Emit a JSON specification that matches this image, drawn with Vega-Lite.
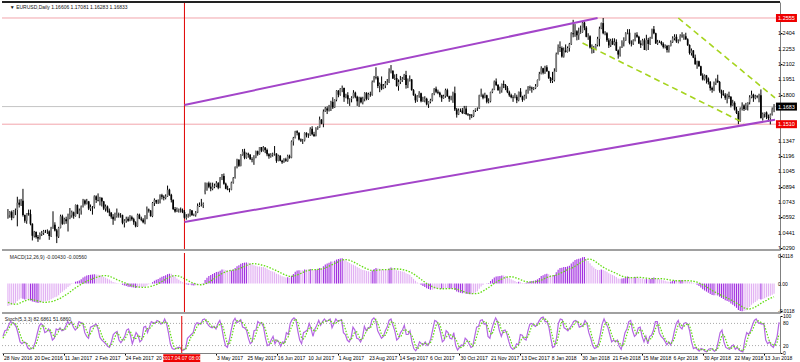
{
"$schema":"https://vega.github.io/schema/vega-lite/v6.json",
"padding":{"left":0,"right":0,"top":1,"bottom":0},
"background":"white",
"spacing":3,
"bounds":"flush",
"config":{"view":{"stroke":null},"axis":{"labels":false,"tickColor":"#000","tickSize":2,"domainColor":"#808080","grid":false},"text":{"font":"Liberation Sans"}},
"datasets":{
"lv":[{"p":1.2555,"n":"high"},{"p":1.151,"n":"low"},{"p":1.16833,"n":"bid"}],
"yl":[{"p":1.029},{"p":1.0441},{"p":1.0592},{"p":1.0743},{"p":1.0894},{"p":1.1045},{"p":1.1196},{"p":1.1347},{"p":1.18},{"p":1.1951},{"p":1.2102},{"p":1.2253},{"p":1.2404}],
"ml":[{"v":0.0118,"s":"0.0118"},{"v":0,"s":"0.00"},{"v":-0.0118,"s":"-0.0118"}],
"sl":[{"v":100},{"v":80},{"v":20},{"v":0}],
"dl":[{"i":0,"s":"28 Nov 2016"},{"i":16,"s":"20 Dec 2016"},{"i":32,"s":"11 Jan 2017"},{"i":48,"s":"2 Feb 2017"},{"i":64,"s":"24 Feb 2017"},{"i":80,"s":"20 Mar 2017"},{"i":112,"s":"3 May 2017"},{"i":128,"s":"25 May 2017"},{"i":144,"s":"16 Jun 2017"},{"i":160,"s":"10 Jul 2017"},{"i":176,"s":"1 Aug 2017"},{"i":192,"s":"23 Aug 2017"},{"i":208,"s":"14 Sep 2017"},{"i":224,"s":"6 Oct 2017"},{"i":240,"s":"30 Oct 2017"},{"i":256,"s":"21 Nov 2017"},{"i":272,"s":"13 Dec 2017"},{"i":288,"s":"8 Jan 2018"},{"i":304,"s":"30 Jan 2018"},{"i":320,"s":"21 Feb 2018"},{"i":336,"s":"15 Mar 2018"},{"i":352,"s":"6 Apr 2018"},{"i":368,"s":"30 Apr 2018"},{"i":384,"s":"22 May 2018"},{"i":400,"s":"13 Jun 2018"}],
"tl":[{"g":"pu","i":94,"p":1.1699},{"g":"pu","i":314,"p":1.2555},{"g":"pl","i":94,"p":1.0548},{"g":"pl","i":408.5,"p":1.1554},{"g":"gu","i":357,"p":1.2555},{"g":"gu","i":408.5,"p":1.1768},{"g":"gl","i":306,"p":1.2309},{"g":"gl","i":392,"p":1.1522}],
"ch":[{"i":94,"lab":"2017.04.07 08:00"}],
"b":[
{"i":0,"o":1.059,"h":1.0675,"l":1.058,"c":1.0615,"m":-0.0095,"s":-0.008,"k":45,"d":40,"t":0},
{"i":1,"o":1.0615,"h":1.0655,"l":1.059,"c":1.0645,"m":-0.0092,"s":-0.0083,"k":60,"d":48,"t":0},
{"i":2,"o":1.0645,"h":1.066,"l":1.0565,"c":1.059,"m":-0.009,"s":-0.0086,"k":62,"d":56,"t":0},
{"i":3,"o":1.059,"h":1.0665,"l":1.0585,"c":1.0663,"m":-0.0086,"s":-0.0087,"k":75,"d":66,"t":0},
{"i":4,"o":1.0663,"h":1.068,"l":1.0615,"c":1.0665,"m":-0.0082,"s":-0.0088,"k":85,"d":74,"t":0},
{"i":5,"o":1.0665,"h":1.0796,"l":1.0505,"c":1.0738,"m":-0.0074,"s":-0.0087,"k":82,"d":81,"t":0},
{"i":6,"o":1.0738,"h":1.077,"l":1.069,"c":1.0718,"m":-0.0068,"s":-0.0084,"k":78,"d":82,"t":0},
{"i":7,"o":1.0718,"h":1.0775,"l":1.0705,"c":1.0756,"m":-0.0062,"s":-0.008,"k":70,"d":77,"t":0},
{"i":8,"o":1.0756,"h":1.0874,"l":1.0601,"c":1.0617,"m":-0.0064,"s":-0.0077,"k":52,"d":67,"t":1},
{"i":9,"o":1.0617,"h":1.062,"l":1.054,"c":1.056,"m":-0.0068,"s":-0.0074,"k":30,"d":51,"t":1},
{"i":10,"o":1.056,"h":1.0635,"l":1.053,"c":1.0635,"m":-0.0066,"s":-0.0071,"k":25,"d":36,"t":0},
{"i":11,"o":1.0635,"h":1.067,"l":1.061,"c":1.0625,"m":-0.0066,"s":-0.0068,"k":30,"d":28,"t":0},
{"i":12,"o":1.0625,"h":1.067,"l":1.0515,"c":1.053,"m":-0.0072,"s":-0.0067,"k":28,"d":28,"t":1},
{"i":13,"o":1.053,"h":1.0535,"l":1.0366,"c":1.0412,"m":-0.0076,"s":-0.0068,"k":14,"d":24,"t":1},
{"i":14,"o":1.0412,"h":1.046,"l":1.0395,"c":1.045,"m":-0.0078,"s":-0.007,"k":10,"d":17,"t":1},
{"i":15,"o":1.045,"h":1.0455,"l":1.0385,"c":1.04,"m":-0.008,"s":-0.0072,"k":12,"d":12,"t":1},
{"i":16,"o":1.04,"h":1.042,"l":1.0352,"c":1.0385,"m":-0.0082,"s":-0.0074,"k":15,"d":12,"t":1},
{"i":17,"o":1.0385,"h":1.0445,"l":1.0375,"c":1.043,"m":-0.0081,"s":-0.0076,"k":30,"d":19,"t":0},
{"i":18,"o":1.043,"h":1.046,"l":1.041,"c":1.044,"m":-0.0079,"s":-0.0078,"k":52,"d":32,"t":0},
{"i":19,"o":1.044,"h":1.047,"l":1.042,"c":1.0455,"m":-0.0077,"s":-0.008,"k":72,"d":51,"t":0},
{"i":20,"o":1.0455,"h":1.047,"l":1.044,"c":1.0455,"m":-0.0075,"s":-0.008,"k":80,"d":68,"t":0},
{"i":21,"o":1.0455,"h":1.0475,"l":1.043,"c":1.0455,"m":-0.0073,"s":-0.0079,"k":75,"d":76,"t":0},
{"i":22,"o":1.0455,"h":1.0465,"l":1.0372,"c":1.041,"m":-0.0072,"s":-0.0078,"k":55,"d":70,"t":0},
{"i":23,"o":1.041,"h":1.05,"l":1.04,"c":1.0495,"m":-0.0067,"s":-0.0077,"k":58,"d":63,"t":0},
{"i":24,"o":1.0495,"h":1.0653,"l":1.048,"c":1.052,"m":-0.0062,"s":-0.0075,"k":65,"d":59,"t":0},
{"i":25,"o":1.052,"h":1.0545,"l":1.0455,"c":1.0465,"m":-0.0058,"s":-0.0072,"k":55,"d":62,"t":0},
{"i":26,"o":1.0465,"h":1.048,"l":1.034,"c":1.0405,"m":-0.0056,"s":-0.0069,"k":35,"d":52,"t":0},
{"i":27,"o":1.0405,"h":1.05,"l":1.039,"c":1.049,"m":-0.005,"s":-0.0066,"k":40,"d":43,"t":0},
{"i":28,"o":1.049,"h":1.062,"l":1.0485,"c":1.0604,"m":-0.004,"s":-0.0062,"k":65,"d":47,"t":0},
{"i":29,"o":1.0604,"h":1.062,"l":1.052,"c":1.053,"m":-0.0035,"s":-0.0057,"k":62,"d":56,"t":0},
{"i":30,"o":1.053,"h":1.059,"l":1.0525,"c":1.0575,"m":-0.0028,"s":-0.0052,"k":68,"d":65,"t":0},
{"i":31,"o":1.0575,"h":1.06,"l":1.053,"c":1.0555,"m":-0.0022,"s":-0.0047,"k":60,"d":63,"t":0},
{"i":32,"o":1.0555,"h":1.063,"l":1.0454,"c":1.0585,"m":-0.0015,"s":-0.0042,"k":62,"d":63,"t":0},
{"i":33,"o":1.0585,"h":1.0685,"l":1.0575,"c":1.0615,"m":-0.0008,"s":-0.0036,"k":72,"d":65,"t":0},
{"i":34,"o":1.0615,"h":1.066,"l":1.059,"c":1.0643,"m":-0.0002,"s":-0.003,"k":85,"d":73,"t":0},
{"i":35,"o":1.0643,"h":1.065,"l":1.058,"c":1.0605,"m":0.0001,"s":-0.0024,"k":78,"d":78,"t":0},
{"i":36,"o":1.0605,"h":1.072,"l":1.06,"c":1.0715,"m":0.0008,"s":-0.0018,"k":85,"d":83,"t":1},
{"i":37,"o":1.0715,"h":1.072,"l":1.0625,"c":1.063,"m":0.001,"s":-0.0013,"k":70,"d":78,"t":1},
{"i":38,"o":1.063,"h":1.068,"l":1.0585,"c":1.066,"m":0.0013,"s":-0.0008,"k":62,"d":72,"t":1},
{"i":39,"o":1.066,"h":1.071,"l":1.062,"c":1.07,"m":0.0018,"s":-0.0003,"k":68,"d":67,"t":1},
{"i":40,"o":1.07,"h":1.0775,"l":1.069,"c":1.076,"m":0.0026,"s":0.0002,"k":85,"d":72,"t":1},
{"i":41,"o":1.076,"h":1.077,"l":1.071,"c":1.0728,"m":0.003,"s":0.0006,"k":82,"d":78,"t":1},
{"i":42,"o":1.0728,"h":1.0775,"l":1.072,"c":1.075,"m":0.0034,"s":0.001,"k":80,"d":82,"t":1},
{"i":43,"o":1.075,"h":1.0755,"l":1.0665,"c":1.068,"m":0.0036,"s":0.0014,"k":55,"d":72,"t":1},
{"i":44,"o":1.068,"h":1.072,"l":1.0655,"c":1.0695,"m":0.0038,"s":0.0017,"k":45,"d":60,"t":1},
{"i":45,"o":1.0695,"h":1.0705,"l":1.062,"c":1.0695,"m":0.0039,"s":0.002,"k":40,"d":47,"t":1},
{"i":46,"o":1.0695,"h":1.081,"l":1.068,"c":1.08,"m":0.004,"s":0.0023,"k":70,"d":52,"t":1},
{"i":47,"o":1.08,"h":1.081,"l":1.0735,"c":1.0765,"m":0.0039,"s":0.0026,"k":72,"d":61,"t":0},
{"i":48,"o":1.0765,"h":1.0829,"l":1.075,"c":1.076,"m":0.0038,"s":0.0028,"k":75,"d":72,"t":0},
{"i":49,"o":1.076,"h":1.0795,"l":1.071,"c":1.0785,"m":0.0036,"s":0.0031,"k":78,"d":75,"t":0},
{"i":50,"o":1.0785,"h":1.079,"l":1.07,"c":1.075,"m":0.0033,"s":0.0033,"k":65,"d":73,"t":0},
{"i":51,"o":1.075,"h":1.0755,"l":1.0665,"c":1.068,"m":0.0028,"s":0.0034,"k":42,"d":62,"t":0},
{"i":52,"o":1.068,"h":1.072,"l":1.065,"c":1.07,"m":0.0025,"s":0.0034,"k":35,"d":47,"t":0},
{"i":53,"o":1.07,"h":1.071,"l":1.064,"c":1.066,"m":0.0021,"s":0.0033,"k":30,"d":36,"t":0},
{"i":54,"o":1.066,"h":1.068,"l":1.0605,"c":1.064,"m":0.0017,"s":0.0031,"k":25,"d":30,"t":0},
{"i":55,"o":1.064,"h":1.0645,"l":1.058,"c":1.06,"m":0.0012,"s":0.0028,"k":18,"d":24,"t":0},
{"i":56,"o":1.06,"h":1.0625,"l":1.052,"c":1.0575,"m":0.0007,"s":0.0025,"k":15,"d":19,"t":0},
{"i":57,"o":1.0575,"h":1.064,"l":1.056,"c":1.0605,"m":0.0005,"s":0.0021,"k":30,"d":21,"t":0},
{"i":58,"o":1.0605,"h":1.068,"l":1.059,"c":1.062,"m":0.0003,"s":0.0017,"k":50,"d":32,"t":0},
{"i":59,"o":1.062,"h":1.064,"l":1.059,"c":1.0615,"m":0.0001,"s":0.0014,"k":55,"d":45,"t":0},
{"i":60,"o":1.0615,"h":1.0635,"l":1.059,"c":1.0615,"m":-0.0001,"s":0.001,"k":58,"d":54,"t":0},
{"i":61,"o":1.0615,"h":1.062,"l":1.0525,"c":1.054,"m":-0.0005,"s":0.0007,"k":35,"d":49,"t":1},
{"i":62,"o":1.054,"h":1.0575,"l":1.0494,"c":1.056,"m":-0.0008,"s":0.0004,"k":28,"d":40,"t":1},
{"i":63,"o":1.056,"h":1.06,"l":1.054,"c":1.058,"m":-0.001,"s":0.0001,"k":35,"d":33,"t":1},
{"i":64,"o":1.058,"h":1.06,"l":1.055,"c":1.056,"m":-0.0013,"s":-0.0003,"k":45,"d":36,"t":1},
{"i":65,"o":1.056,"h":1.0615,"l":1.0555,"c":1.0595,"m":-0.0014,"s":-0.0006,"k":62,"d":47,"t":1},
{"i":66,"o":1.0595,"h":1.061,"l":1.056,"c":1.0575,"m":-0.0016,"s":-0.0009,"k":65,"d":57,"t":1},
{"i":67,"o":1.0575,"h":1.059,"l":1.052,"c":1.0545,"m":-0.0017,"s":-0.0011,"k":48,"d":58,"t":1},
{"i":68,"o":1.0545,"h":1.0555,"l":1.0495,"c":1.0505,"m":-0.0019,"s":-0.0013,"k":25,"d":46,"t":1},
{"i":69,"o":1.0505,"h":1.063,"l":1.05,"c":1.062,"m":-0.0017,"s":-0.0014,"k":40,"d":38,"t":0},
{"i":70,"o":1.062,"h":1.063,"l":1.0575,"c":1.058,"m":-0.0016,"s":-0.0015,"k":55,"d":40,"t":0},
{"i":71,"o":1.058,"h":1.06,"l":1.0555,"c":1.057,"m":-0.0015,"s":-0.0016,"k":48,"d":48,"t":0},
{"i":72,"o":1.057,"h":1.0585,"l":1.0535,"c":1.0545,"m":-0.0015,"s":-0.0016,"k":30,"d":44,"t":0},
{"i":73,"o":1.0545,"h":1.0615,"l":1.0525,"c":1.058,"m":-0.0013,"s":-0.0016,"k":35,"d":38,"t":0},
{"i":74,"o":1.058,"h":1.07,"l":1.0575,"c":1.067,"m":-0.0008,"s":-0.0015,"k":70,"d":45,"t":0},
{"i":75,"o":1.067,"h":1.068,"l":1.064,"c":1.066,"m":-0.0003,"s":-0.0014,"k":72,"d":60,"t":0},
{"i":76,"o":1.066,"h":1.0665,"l":1.06,"c":1.0605,"m":-0.0001,"s":-0.0012,"k":55,"d":66,"t":0},
{"i":77,"o":1.0605,"h":1.0745,"l":1.0595,"c":1.0735,"m":0.0006,"s":-0.001,"k":70,"d":66,"t":1},
{"i":78,"o":1.0735,"h":1.078,"l":1.0705,"c":1.0765,"m":0.0012,"s":-0.0007,"k":85,"d":70,"t":1},
{"i":79,"o":1.0765,"h":1.0765,"l":1.0725,"c":1.074,"m":0.0016,"s":-0.0004,"k":82,"d":79,"t":1},
{"i":80,"o":1.074,"h":1.077,"l":1.0725,"c":1.074,"m":0.0019,"s":-0.0001,"k":80,"d":82,"t":1},
{"i":81,"o":1.074,"h":1.082,"l":1.073,"c":1.081,"m":0.0025,"s":0.0004,"k":88,"d":83,"t":1},
{"i":82,"o":1.081,"h":1.0825,"l":1.077,"c":1.0795,"m":0.0029,"s":0.0009,"k":85,"d":84,"t":1},
{"i":83,"o":1.0795,"h":1.081,"l":1.076,"c":1.0785,"m":0.0032,"s":0.0014,"k":78,"d":84,"t":1},
{"i":84,"o":1.0785,"h":1.082,"l":1.077,"c":1.08,"m":0.0035,"s":0.0018,"k":80,"d":81,"t":1},
{"i":85,"o":1.08,"h":1.0906,"l":1.0795,"c":1.0865,"m":0.004,"s":0.0023,"k":92,"d":83,"t":1},
{"i":86,"o":1.0865,"h":1.0875,"l":1.0805,"c":1.0815,"m":0.0042,"s":0.0027,"k":80,"d":84,"t":1},
{"i":87,"o":1.0815,"h":1.0825,"l":1.074,"c":1.0765,"m":0.0042,"s":0.0031,"k":55,"d":76,"t":0},
{"i":88,"o":1.0765,"h":1.077,"l":1.0665,"c":1.0675,"m":0.0036,"s":0.0033,"k":25,"d":53,"t":0},
{"i":89,"o":1.0675,"h":1.0695,"l":1.064,"c":1.065,"m":0.003,"s":0.0034,"k":12,"d":31,"t":0},
{"i":90,"o":1.065,"h":1.069,"l":1.0645,"c":1.0665,"m":0.0022,"s":0.0034,"k":10,"d":16,"t":0},
{"i":91,"o":1.0665,"h":1.068,"l":1.064,"c":1.067,"m":0.0016,"s":0.0032,"k":12,"d":11,"t":0},
{"i":92,"o":1.067,"h":1.069,"l":1.064,"c":1.0665,"m":0.0011,"s":0.0029,"k":15,"d":12,"t":0},
{"i":93,"o":1.0665,"h":1.068,"l":1.0635,"c":1.0645,"m":0.0006,"s":0.0025,"k":15,"d":14,"t":0},
{"i":94,"o":1.0645,"h":1.0665,"l":1.058,"c":1.059,"m":0.0001,"s":0.0021,"k":8,"d":13,"t":0},
{"i":95,"o":1.059,"h":1.0625,"l":1.057,"c":1.06,"m":-0.0003,"s":0.0017,"k":8,"d":10,"t":1},
{"i":96,"o":1.06,"h":1.063,"l":1.059,"c":1.0605,"m":-0.0005,"s":0.0012,"k":12,"d":9,"t":1},
{"i":97,"o":1.0605,"h":1.0675,"l":1.06,"c":1.066,"m":-0.0005,"s":0.0008,"k":40,"d":20,"t":0},
{"i":98,"o":1.066,"h":1.0665,"l":1.061,"c":1.0615,"m":-0.0007,"s":0.0004,"k":45,"d":32,"t":1},
{"i":99,"o":1.0615,"h":1.063,"l":1.0605,"c":1.0615,"m":-0.0008,"s":0.0001,"k":50,"d":45,"t":1},
{"i":100,"o":1.0615,"h":1.0655,"l":1.06,"c":1.064,"m":-0.0007,"s":-0.0002,"k":55,"d":49,"t":0},
{"i":101,"o":1.064,"h":1.073,"l":1.0635,"c":1.0705,"m":-0.0004,"s":-0.0004,"k":75,"d":60,"t":0},
{"i":102,"o":1.0705,"h":1.074,"l":1.0695,"c":1.0715,"m":-0.0001,"s":-0.0005,"k":82,"d":71,"t":0},
{"i":103,"o":1.0715,"h":1.0775,"l":1.07,"c":1.0715,"m":0.0001,"s":-0.0005,"k":80,"d":79,"t":0},
{"i":104,"o":1.0715,"h":1.074,"l":1.0685,"c":1.0725,"m":0.0003,"s":-0.0004,"k":78,"d":80,"t":1},
{"i":105,"o":1.084,"h":1.0937,"l":1.082,"c":1.0865,"m":0.0015,"s":-0.0002,"k":90,"d":83,"t":1},
{"i":106,"o":1.0865,"h":1.0935,"l":1.0855,"c":1.093,"m":0.0025,"s":0.0002,"k":92,"d":87,"t":1},
{"i":107,"o":1.093,"h":1.0945,"l":1.088,"c":1.0895,"m":0.0032,"s":0.0006,"k":85,"d":89,"t":1},
{"i":108,"o":1.0895,"h":1.0935,"l":1.085,"c":1.0875,"m":0.0037,"s":0.0011,"k":75,"d":84,"t":1},
{"i":109,"o":1.0875,"h":1.0935,"l":1.086,"c":1.0895,"m":0.0041,"s":0.0016,"k":70,"d":77,"t":1},
{"i":110,"o":1.0895,"h":1.0925,"l":1.088,"c":1.0905,"m":0.0045,"s":0.0022,"k":68,"d":71,"t":1},
{"i":111,"o":1.0905,"h":1.095,"l":1.089,"c":1.093,"m":0.0049,"s":0.0028,"k":72,"d":70,"t":1},
{"i":112,"o":1.093,"h":1.094,"l":1.087,"c":1.0885,"m":0.005,"s":0.0033,"k":65,"d":68,"t":1},
{"i":113,"o":1.0885,"h":1.099,"l":1.088,"c":1.0985,"m":0.0055,"s":0.0038,"k":80,"d":72,"t":1},
{"i":114,"o":1.0985,"h":1.102,"l":1.096,"c":1.0995,"m":0.006,"s":0.0043,"k":88,"d":78,"t":1},
{"i":115,"o":1.1,"h":1.1025,"l":1.0915,"c":1.0925,"m":0.006,"s":0.0047,"k":70,"d":79,"t":0},
{"i":116,"o":1.0925,"h":1.0935,"l":1.087,"c":1.0875,"m":0.0058,"s":0.005,"k":40,"d":66,"t":0},
{"i":117,"o":1.0875,"h":1.0905,"l":1.086,"c":1.0865,"m":0.0056,"s":0.0053,"k":20,"d":43,"t":0},
{"i":118,"o":1.0865,"h":1.088,"l":1.084,"c":1.0865,"m":0.0054,"s":0.0055,"k":15,"d":25,"t":0},
{"i":119,"o":1.0865,"h":1.0945,"l":1.086,"c":1.0935,"m":0.0056,"s":0.0056,"k":35,"d":23,"t":1},
{"i":120,"o":1.0935,"h":1.099,"l":1.0925,"c":1.098,"m":0.006,"s":0.0057,"k":62,"d":37,"t":1},
{"i":121,"o":1.098,"h":1.1095,"l":1.0975,"c":1.109,"m":0.0066,"s":0.0058,"k":85,"d":61,"t":1},
{"i":122,"o":1.109,"h":1.117,"l":1.1075,"c":1.116,"m":0.0074,"s":0.006,"k":94,"d":80,"t":1},
{"i":123,"o":1.116,"h":1.1165,"l":1.109,"c":1.11,"m":0.0078,"s":0.0063,"k":82,"d":87,"t":1},
{"i":124,"o":1.11,"h":1.1215,"l":1.1095,"c":1.121,"m":0.0084,"s":0.0066,"k":85,"d":87,"t":1},
{"i":125,"o":1.121,"h":1.1265,"l":1.12,"c":1.124,"m":0.0088,"s":0.007,"k":90,"d":86,"t":1},
{"i":126,"o":1.124,"h":1.1268,"l":1.1165,"c":1.118,"m":0.0089,"s":0.0073,"k":70,"d":82,"t":1},
{"i":127,"o":1.118,"h":1.123,"l":1.117,"c":1.122,"m":0.009,"s":0.0077,"k":68,"d":76,"t":1},
{"i":128,"o":1.122,"h":1.123,"l":1.118,"c":1.121,"m":0.0089,"s":0.008,"k":62,"d":67,"t":0},
{"i":129,"o":1.121,"h":1.1215,"l":1.116,"c":1.1165,"m":0.0086,"s":0.0083,"k":40,"d":57,"t":0},
{"i":130,"o":1.1165,"h":1.1185,"l":1.1135,"c":1.116,"m":0.0082,"s":0.0085,"k":25,"d":42,"t":0},
{"i":131,"o":1.116,"h":1.1205,"l":1.111,"c":1.118,"m":0.0078,"s":0.0085,"k":30,"d":32,"t":0},
{"i":132,"o":1.118,"h":1.125,"l":1.1175,"c":1.1245,"m":0.0076,"s":0.0084,"k":60,"d":38,"t":0},
{"i":133,"o":1.1245,"h":1.125,"l":1.12,"c":1.1215,"m":0.0073,"s":0.0083,"k":62,"d":51,"t":0},
{"i":134,"o":1.1215,"h":1.1285,"l":1.121,"c":1.1285,"m":0.0073,"s":0.0081,"k":85,"d":69,"t":0},
{"i":135,"o":1.1285,"h":1.1285,"l":1.1235,"c":1.125,"m":0.0071,"s":0.0079,"k":80,"d":76,"t":0},
{"i":136,"o":1.125,"h":1.1295,"l":1.124,"c":1.128,"m":0.007,"s":0.0077,"k":82,"d":82,"t":0},
{"i":137,"o":1.128,"h":1.1285,"l":1.1225,"c":1.1255,"m":0.0067,"s":0.0075,"k":70,"d":77,"t":0},
{"i":138,"o":1.1255,"h":1.127,"l":1.1195,"c":1.1215,"m":0.0063,"s":0.0072,"k":40,"d":64,"t":0},
{"i":139,"o":1.1215,"h":1.1225,"l":1.117,"c":1.1195,"m":0.0058,"s":0.0069,"k":20,"d":43,"t":0},
{"i":140,"o":1.1195,"h":1.1225,"l":1.118,"c":1.121,"m":0.0054,"s":0.0066,"k":22,"d":27,"t":0},
{"i":141,"o":1.121,"h":1.123,"l":1.119,"c":1.1215,"m":0.0051,"s":0.0062,"k":35,"d":26,"t":0},
{"i":142,"o":1.1215,"h":1.1295,"l":1.12,"c":1.122,"m":0.0048,"s":0.0059,"k":45,"d":34,"t":0},
{"i":143,"o":1.122,"h":1.1225,"l":1.113,"c":1.115,"m":0.0042,"s":0.0055,"k":25,"d":35,"t":0},
{"i":144,"o":1.115,"h":1.121,"l":1.1145,"c":1.12,"m":0.004,"s":0.0051,"k":35,"d":35,"t":0},
{"i":145,"o":1.12,"h":1.1205,"l":1.1145,"c":1.115,"m":0.0035,"s":0.0047,"k":30,"d":30,"t":0},
{"i":146,"o":1.115,"h":1.116,"l":1.112,"c":1.1135,"m":0.0031,"s":0.0043,"k":18,"d":28,"t":0},
{"i":147,"o":1.1135,"h":1.1175,"l":1.113,"c":1.1165,"m":0.0029,"s":0.0039,"k":30,"d":26,"t":0},
{"i":148,"o":1.1165,"h":1.118,"l":1.114,"c":1.115,"m":0.0026,"s":0.0036,"k":28,"d":25,"t":0},
{"i":149,"o":1.115,"h":1.121,"l":1.114,"c":1.1195,"m":0.0027,"s":0.0033,"k":55,"d":38,"t":1},
{"i":150,"o":1.1195,"h":1.121,"l":1.117,"c":1.118,"m":0.0025,"s":0.0031,"k":50,"d":44,"t":0},
{"i":151,"o":1.118,"h":1.135,"l":1.1175,"c":1.134,"m":0.0033,"s":0.0031,"k":80,"d":62,"t":1},
{"i":152,"o":1.134,"h":1.1385,"l":1.13,"c":1.1375,"m":0.0041,"s":0.0032,"k":90,"d":73,"t":1},
{"i":153,"o":1.1375,"h":1.1445,"l":1.137,"c":1.144,"m":0.005,"s":0.0034,"k":95,"d":88,"t":1},
{"i":154,"o":1.144,"h":1.145,"l":1.14,"c":1.1425,"m":0.0056,"s":0.0037,"k":90,"d":92,"t":1},
{"i":155,"o":1.1425,"h":1.143,"l":1.135,"c":1.136,"m":0.0057,"s":0.004,"k":60,"d":82,"t":1},
{"i":156,"o":1.136,"h":1.137,"l":1.1335,"c":1.135,"m":0.0057,"s":0.0043,"k":35,"d":62,"t":0},
{"i":157,"o":1.135,"h":1.1365,"l":1.1315,"c":1.135,"m":0.0057,"s":0.0047,"k":25,"d":40,"t":0},
{"i":158,"o":1.135,"h":1.143,"l":1.134,"c":1.1425,"m":0.006,"s":0.0051,"k":55,"d":38,"t":1},
{"i":159,"o":1.1425,"h":1.143,"l":1.138,"c":1.14,"m":0.006,"s":0.0054,"k":58,"d":46,"t":0},
{"i":160,"o":1.14,"h":1.142,"l":1.1375,"c":1.14,"m":0.006,"s":0.0056,"k":62,"d":58,"t":0},
{"i":161,"o":1.14,"h":1.148,"l":1.1395,"c":1.1465,"m":0.0062,"s":0.0058,"k":80,"d":67,"t":1},
{"i":162,"o":1.1465,"h":1.149,"l":1.14,"c":1.141,"m":0.006,"s":0.0059,"k":65,"d":69,"t":0},
{"i":163,"o":1.141,"h":1.1435,"l":1.1385,"c":1.1395,"m":0.0058,"s":0.0059,"k":45,"d":63,"t":0},
{"i":164,"o":1.1395,"h":1.148,"l":1.139,"c":1.147,"m":0.006,"s":0.0059,"k":65,"d":58,"t":1},
{"i":165,"o":1.147,"h":1.149,"l":1.1455,"c":1.1478,"m":0.0061,"s":0.006,"k":75,"d":62,"t":1},
{"i":166,"o":1.1478,"h":1.1585,"l":1.1475,"c":1.1555,"m":0.0066,"s":0.0061,"k":88,"d":76,"t":1},
{"i":167,"o":1.1555,"h":1.156,"l":1.151,"c":1.1515,"m":0.0066,"s":0.0062,"k":75,"d":79,"t":0},
{"i":168,"o":1.1515,"h":1.1655,"l":1.148,"c":1.1635,"m":0.0074,"s":0.0064,"k":85,"d":83,"t":1},
{"i":169,"o":1.1635,"h":1.168,"l":1.163,"c":1.1665,"m":0.0081,"s":0.0067,"k":92,"d":84,"t":1},
{"i":170,"o":1.1665,"h":1.1685,"l":1.161,"c":1.1645,"m":0.0085,"s":0.007,"k":85,"d":87,"t":1},
{"i":171,"o":1.1645,"h":1.17,"l":1.1635,"c":1.1685,"m":0.0089,"s":0.0074,"k":88,"d":88,"t":1},
{"i":172,"o":1.1685,"h":1.174,"l":1.164,"c":1.173,"m":0.0094,"s":0.0078,"k":92,"d":88,"t":1},
{"i":173,"o":1.173,"h":1.1775,"l":1.166,"c":1.1675,"m":0.0094,"s":0.0082,"k":68,"d":83,"t":0},
{"i":174,"o":1.1675,"h":1.1755,"l":1.167,"c":1.175,"m":0.0097,"s":0.0086,"k":80,"d":80,"t":1},
{"i":175,"o":1.175,"h":1.1845,"l":1.1735,"c":1.184,"m":0.0102,"s":0.009,"k":92,"d":80,"t":1},
{"i":176,"o":1.184,"h":1.1845,"l":1.1775,"c":1.18,"m":0.0104,"s":0.0093,"k":85,"d":86,"t":1},
{"i":177,"o":1.18,"h":1.1865,"l":1.179,"c":1.186,"m":0.0107,"s":0.0097,"k":88,"d":88,"t":1},
{"i":178,"o":1.186,"h":1.189,"l":1.1825,"c":1.1865,"m":0.0108,"s":0.01,"k":90,"d":88,"t":1},
{"i":179,"o":1.1865,"h":1.187,"l":1.173,"c":1.1775,"m":0.0102,"s":0.0102,"k":55,"d":78,"t":0},
{"i":180,"o":1.1775,"h":1.181,"l":1.1765,"c":1.1795,"m":0.0098,"s":0.0102,"k":50,"d":65,"t":0},
{"i":181,"o":1.1795,"h":1.1825,"l":1.171,"c":1.1755,"m":0.0092,"s":0.0101,"k":35,"d":47,"t":0},
{"i":182,"o":1.1755,"h":1.1765,"l":1.169,"c":1.176,"m":0.0087,"s":0.0099,"k":30,"d":38,"t":0},
{"i":183,"o":1.176,"h":1.1785,"l":1.1725,"c":1.177,"m":0.0082,"s":0.0096,"k":40,"d":35,"t":0},
{"i":184,"o":1.177,"h":1.1845,"l":1.1765,"c":1.182,"m":0.008,"s":0.0092,"k":70,"d":47,"t":0},
{"i":185,"o":1.182,"h":1.183,"l":1.1765,"c":1.178,"m":0.0076,"s":0.0088,"k":62,"d":57,"t":0},
{"i":186,"o":1.178,"h":1.179,"l":1.169,"c":1.1735,"m":0.007,"s":0.0084,"k":40,"d":57,"t":0},
{"i":187,"o":1.1735,"h":1.178,"l":1.168,"c":1.177,"m":0.0066,"s":0.0079,"k":38,"d":47,"t":0},
{"i":188,"o":1.177,"h":1.178,"l":1.1715,"c":1.1725,"m":0.0061,"s":0.0075,"k":30,"d":36,"t":0},
{"i":189,"o":1.1725,"h":1.178,"l":1.1705,"c":1.176,"m":0.0058,"s":0.0071,"k":42,"d":37,"t":0},
{"i":190,"o":1.176,"h":1.1825,"l":1.1735,"c":1.1815,"m":0.0057,"s":0.0067,"k":72,"d":48,"t":0},
{"i":191,"o":1.1815,"h":1.1825,"l":1.1745,"c":1.176,"m":0.0053,"s":0.0063,"k":60,"d":58,"t":0},
{"i":192,"o":1.176,"h":1.182,"l":1.175,"c":1.1805,"m":0.0052,"s":0.006,"k":68,"d":67,"t":0},
{"i":193,"o":1.1805,"h":1.183,"l":1.178,"c":1.18,"m":0.005,"s":0.0057,"k":70,"d":66,"t":0},
{"i":194,"o":1.18,"h":1.194,"l":1.179,"c":1.1925,"m":0.0056,"s":0.0055,"k":90,"d":76,"t":1},
{"i":195,"o":1.1925,"h":1.1985,"l":1.192,"c":1.1975,"m":0.0062,"s":0.0055,"k":95,"d":85,"t":1},
{"i":196,"o":1.1975,"h":1.207,"l":1.195,"c":1.197,"m":0.0066,"s":0.0056,"k":88,"d":91,"t":1},
{"i":197,"o":1.197,"h":1.1985,"l":1.1865,"c":1.1885,"m":0.0064,"s":0.0057,"k":60,"d":81,"t":0},
{"i":198,"o":1.1885,"h":1.192,"l":1.1825,"c":1.1905,"m":0.0063,"s":0.0058,"k":50,"d":66,"t":0},
{"i":199,"o":1.1905,"h":1.198,"l":1.1845,"c":1.186,"m":0.006,"s":0.0059,"k":40,"d":50,"t":0},
{"i":200,"o":1.186,"h":1.1905,"l":1.1855,"c":1.189,"m":0.0059,"s":0.0059,"k":45,"d":45,"t":0},
{"i":201,"o":1.189,"h":1.1935,"l":1.1865,"c":1.1915,"m":0.0059,"s":0.0059,"k":60,"d":48,"t":0},
{"i":202,"o":1.1915,"h":1.1955,"l":1.1895,"c":1.192,"m":0.0059,"s":0.0059,"k":70,"d":58,"t":0},
{"i":203,"o":1.192,"h":1.206,"l":1.1915,"c":1.2025,"m":0.0064,"s":0.006,"k":88,"d":73,"t":1},
{"i":204,"o":1.2025,"h":1.2092,"l":1.201,"c":1.2035,"m":0.0068,"s":0.0061,"k":92,"d":83,"t":1},
{"i":205,"o":1.2035,"h":1.204,"l":1.1955,"c":1.196,"m":0.0066,"s":0.0062,"k":75,"d":85,"t":0},
{"i":206,"o":1.196,"h":1.2,"l":1.1945,"c":1.1965,"m":0.0063,"s":0.0063,"k":60,"d":76,"t":0},
{"i":207,"o":1.1965,"h":1.2005,"l":1.188,"c":1.1885,"m":0.0057,"s":0.0062,"k":35,"d":57,"t":0},
{"i":208,"o":1.1885,"h":1.195,"l":1.184,"c":1.1925,"m":0.0055,"s":0.0062,"k":40,"d":45,"t":0},
{"i":209,"o":1.1925,"h":1.1985,"l":1.1905,"c":1.1945,"m":0.0053,"s":0.0061,"k":55,"d":43,"t":0},
{"i":210,"o":1.1945,"h":1.1975,"l":1.1925,"c":1.1955,"m":0.0051,"s":0.0059,"k":62,"d":52,"t":0},
{"i":211,"o":1.1955,"h":1.2005,"l":1.1945,"c":1.1995,"m":0.005,"s":0.0058,"k":75,"d":64,"t":0},
{"i":212,"o":1.1995,"h":1.2035,"l":1.186,"c":1.1895,"m":0.0044,"s":0.0056,"k":50,"d":62,"t":0},
{"i":213,"o":1.1895,"h":1.196,"l":1.1865,"c":1.194,"m":0.0041,"s":0.0053,"k":50,"d":58,"t":0},
{"i":214,"o":1.194,"h":1.199,"l":1.193,"c":1.195,"m":0.0038,"s":0.005,"k":60,"d":53,"t":0},
{"i":215,"o":1.195,"h":1.1955,"l":1.184,"c":1.1845,"m":0.0028,"s":0.0046,"k":30,"d":47,"t":0},
{"i":216,"o":1.1845,"h":1.1855,"l":1.179,"c":1.1795,"m":0.002,"s":0.0041,"k":12,"d":34,"t":0},
{"i":217,"o":1.1795,"h":1.181,"l":1.172,"c":1.1745,"m":0.0012,"s":0.0036,"k":6,"d":16,"t":0},
{"i":218,"o":1.1745,"h":1.1795,"l":1.173,"c":1.1785,"m":0.0005,"s":0.003,"k":15,"d":11,"t":0},
{"i":219,"o":1.1785,"h":1.1835,"l":1.177,"c":1.1815,"m":0.0001,"s":0.0024,"k":30,"d":17,"t":0},
{"i":220,"o":1.1815,"h":1.182,"l":1.1725,"c":1.1735,"m":-0.0005,"s":0.0018,"k":25,"d":23,"t":1},
{"i":221,"o":1.1735,"h":1.178,"l":1.173,"c":1.1745,"m":-0.001,"s":0.0012,"k":22,"d":26,"t":1},
{"i":222,"o":1.1745,"h":1.1785,"l":1.1725,"c":1.176,"m":-0.0015,"s":0.0006,"k":30,"d":26,"t":1},
{"i":223,"o":1.176,"h":1.177,"l":1.1695,"c":1.1705,"m":-0.002,"s":0,"k":20,"d":24,"t":1},
{"i":224,"o":1.1705,"h":1.1735,"l":1.167,"c":1.173,"m":-0.0023,"s":-0.0005,"k":25,"d":25,"t":1},
{"i":225,"o":1.173,"h":1.176,"l":1.1715,"c":1.1745,"m":-0.0026,"s":-0.0009,"k":40,"d":30,"t":1},
{"i":226,"o":1.1745,"h":1.1815,"l":1.1735,"c":1.181,"m":-0.0026,"s":-0.0013,"k":65,"d":43,"t":0},
{"i":227,"o":1.181,"h":1.1865,"l":1.1795,"c":1.186,"m":-0.0024,"s":-0.0016,"k":88,"d":64,"t":0},
{"i":228,"o":1.186,"h":1.188,"l":1.1815,"c":1.183,"m":-0.0022,"s":-0.0019,"k":85,"d":79,"t":0},
{"i":229,"o":1.183,"h":1.185,"l":1.1805,"c":1.182,"m":-0.0021,"s":-0.0021,"k":75,"d":83,"t":0},
{"i":230,"o":1.182,"h":1.183,"l":1.1775,"c":1.1795,"m":-0.0021,"s":-0.0022,"k":55,"d":72,"t":0},
{"i":231,"o":1.1795,"h":1.18,"l":1.173,"c":1.1765,"m":-0.0022,"s":-0.0022,"k":30,"d":53,"t":1},
{"i":232,"o":1.1765,"h":1.18,"l":1.176,"c":1.1785,"m":-0.0022,"s":-0.0022,"k":35,"d":40,"t":0},
{"i":233,"o":1.1785,"h":1.186,"l":1.177,"c":1.1845,"m":-0.002,"s":-0.0022,"k":60,"d":42,"t":0},
{"i":234,"o":1.1845,"h":1.186,"l":1.178,"c":1.1785,"m":-0.002,"s":-0.0021,"k":55,"d":50,"t":0},
{"i":235,"o":1.1785,"h":1.179,"l":1.173,"c":1.176,"m":-0.0021,"s":-0.0021,"k":40,"d":52,"t":1},
{"i":236,"o":1.176,"h":1.179,"l":1.1745,"c":1.176,"m":-0.0022,"s":-0.0021,"k":38,"d":44,"t":1},
{"i":237,"o":1.176,"h":1.183,"l":1.172,"c":1.1815,"m":-0.002,"s":-0.0021,"k":55,"d":44,"t":0},
{"i":238,"o":1.1815,"h":1.188,"l":1.164,"c":1.1655,"m":-0.0027,"s":-0.0022,"k":20,"d":38,"t":1},
{"i":239,"o":1.1655,"h":1.167,"l":1.1575,"c":1.1605,"m":-0.0034,"s":-0.0024,"k":8,"d":28,"t":1},
{"i":240,"o":1.1605,"h":1.1665,"l":1.16,"c":1.1645,"m":-0.0037,"s":-0.0026,"k":15,"d":14,"t":1},
{"i":241,"o":1.1645,"h":1.1665,"l":1.163,"c":1.1645,"m":-0.0039,"s":-0.0029,"k":22,"d":15,"t":1},
{"i":242,"o":1.1645,"h":1.167,"l":1.161,"c":1.162,"m":-0.0041,"s":-0.0032,"k":20,"d":19,"t":1},
{"i":243,"o":1.162,"h":1.169,"l":1.161,"c":1.1665,"m":-0.0041,"s":-0.0035,"k":40,"d":27,"t":0},
{"i":244,"o":1.1665,"h":1.169,"l":1.16,"c":1.161,"m":-0.0043,"s":-0.0038,"k":35,"d":32,"t":1},
{"i":245,"o":1.161,"h":1.162,"l":1.159,"c":1.1605,"m":-0.0044,"s":-0.004,"k":25,"d":33,"t":1},
{"i":246,"o":1.1605,"h":1.161,"l":1.1554,"c":1.1595,"m":-0.0045,"s":-0.0041,"k":15,"d":25,"t":1},
{"i":247,"o":1.1595,"h":1.161,"l":1.157,"c":1.159,"m":-0.0045,"s":-0.0043,"k":18,"d":19,"t":0},
{"i":248,"o":1.159,"h":1.165,"l":1.158,"c":1.1645,"m":-0.0042,"s":-0.0043,"k":45,"d":26,"t":0},
{"i":249,"o":1.1645,"h":1.1665,"l":1.163,"c":1.1665,"m":-0.0038,"s":-0.0043,"k":70,"d":44,"t":0},
{"i":250,"o":1.1665,"h":1.1675,"l":1.164,"c":1.1665,"m":-0.0033,"s":-0.0042,"k":72,"d":62,"t":0},
{"i":251,"o":1.1665,"h":1.18,"l":1.166,"c":1.1795,"m":-0.0022,"s":-0.004,"k":88,"d":77,"t":0},
{"i":252,"o":1.1795,"h":1.186,"l":1.178,"c":1.1795,"m":-0.0012,"s":-0.0036,"k":90,"d":83,"t":0},
{"i":253,"o":1.1795,"h":1.181,"l":1.1755,"c":1.177,"m":-0.0006,"s":-0.0032,"k":78,"d":85,"t":0},
{"i":254,"o":1.177,"h":1.182,"l":1.1765,"c":1.1795,"m":0,"s":-0.0027,"k":80,"d":83,"t":0},
{"i":255,"o":1.1795,"h":1.18,"l":1.1715,"c":1.173,"m":0.0001,"s":-0.0022,"k":45,"d":68,"t":1},
{"i":256,"o":1.173,"h":1.1765,"l":1.1715,"c":1.1735,"m":0.0003,"s":-0.0017,"k":40,"d":55,"t":1},
{"i":257,"o":1.1735,"h":1.183,"l":1.1725,"c":1.1825,"m":0.0011,"s":-0.0011,"k":65,"d":50,"t":1},
{"i":258,"o":1.1825,"h":1.186,"l":1.1815,"c":1.185,"m":0.0018,"s":-0.0005,"k":82,"d":62,"t":1},
{"i":259,"o":1.185,"h":1.194,"l":1.1845,"c":1.193,"m":0.0026,"s":0.0001,"k":95,"d":81,"t":1},
{"i":260,"o":1.193,"h":1.196,"l":1.1885,"c":1.1895,"m":0.003,"s":0.0006,"k":85,"d":87,"t":1},
{"i":261,"o":1.1895,"h":1.1905,"l":1.184,"c":1.1845,"m":0.0031,"s":0.0011,"k":60,"d":80,"t":1},
{"i":262,"o":1.1845,"h":1.188,"l":1.181,"c":1.1845,"m":0.0032,"s":0.0015,"k":45,"d":63,"t":1},
{"i":263,"o":1.1845,"h":1.191,"l":1.182,"c":1.1905,"m":0.0034,"s":0.0019,"k":60,"d":55,"t":1},
{"i":264,"o":1.1905,"h":1.194,"l":1.1865,"c":1.1895,"m":0.0034,"s":0.0023,"k":62,"d":56,"t":0},
{"i":265,"o":1.1895,"h":1.1905,"l":1.1845,"c":1.1865,"m":0.0032,"s":0.0026,"k":50,"d":57,"t":0},
{"i":266,"o":1.1865,"h":1.1885,"l":1.1815,"c":1.1825,"m":0.0028,"s":0.0028,"k":30,"d":47,"t":0},
{"i":267,"o":1.1825,"h":1.184,"l":1.178,"c":1.1795,"m":0.0023,"s":0.0029,"k":15,"d":32,"t":0},
{"i":268,"o":1.1795,"h":1.181,"l":1.1765,"c":1.1775,"m":0.0018,"s":0.0029,"k":10,"d":18,"t":0},
{"i":269,"o":1.1775,"h":1.1795,"l":1.173,"c":1.177,"m":0.0014,"s":0.0028,"k":12,"d":12,"t":0},
{"i":270,"o":1.177,"h":1.1815,"l":1.1765,"c":1.178,"m":0.0011,"s":0.0026,"k":25,"d":16,"t":0},
{"i":271,"o":1.178,"h":1.18,"l":1.1717,"c":1.1745,"m":0.0007,"s":0.0023,"k":22,"d":20,"t":0},
{"i":272,"o":1.1745,"h":1.183,"l":1.1735,"c":1.183,"m":0.0008,"s":0.002,"k":50,"d":32,"t":1},
{"i":273,"o":1.183,"h":1.1865,"l":1.1775,"c":1.178,"m":0.0006,"s":0.0017,"k":48,"d":40,"t":0},
{"i":274,"o":1.178,"h":1.179,"l":1.173,"c":1.175,"m":0.0003,"s":0.0013,"k":38,"d":45,"t":0},
{"i":275,"o":1.175,"h":1.18,"l":1.1745,"c":1.1785,"m":0.0003,"s":0.001,"k":35,"d":40,"t":0},
{"i":276,"o":1.1785,"h":1.185,"l":1.176,"c":1.184,"m":0.0004,"s":0.0008,"k":60,"d":44,"t":1},
{"i":277,"o":1.184,"h":1.1885,"l":1.181,"c":1.1875,"m":0.0007,"s":0.0007,"k":78,"d":58,"t":1},
{"i":278,"o":1.1875,"h":1.189,"l":1.184,"c":1.187,"m":0.0009,"s":0.0006,"k":80,"d":73,"t":1},
{"i":279,"o":1.187,"h":1.188,"l":1.182,"c":1.186,"m":0.0011,"s":0.0006,"k":75,"d":78,"t":1},
{"i":280,"o":1.186,"h":1.1875,"l":1.1845,"c":1.1865,"m":0.0012,"s":0.0007,"k":72,"d":76,"t":1},
{"i":281,"o":1.1865,"h":1.1905,"l":1.1855,"c":1.1885,"m":0.0014,"s":0.0008,"k":78,"d":75,"t":1},
{"i":282,"o":1.1885,"h":1.195,"l":1.188,"c":1.1945,"m":0.0018,"s":0.001,"k":88,"d":79,"t":1},
{"i":283,"o":1.1945,"h":1.2025,"l":1.194,"c":1.2005,"m":0.0024,"s":0.0012,"k":95,"d":87,"t":1},
{"i":284,"o":1.2005,"h":1.208,"l":1.2,"c":1.206,"m":0.0032,"s":0.0015,"k":97,"d":93,"t":1},
{"i":285,"o":1.206,"h":1.2065,"l":1.2,"c":1.2015,"m":0.0035,"s":0.0018,"k":85,"d":92,"t":1},
{"i":286,"o":1.2015,"h":1.2085,"l":1.2005,"c":1.207,"m":0.004,"s":0.0022,"k":85,"d":89,"t":1},
{"i":287,"o":1.207,"h":1.209,"l":1.2025,"c":1.203,"m":0.0042,"s":0.0026,"k":70,"d":80,"t":1},
{"i":288,"o":1.203,"h":1.2035,"l":1.1955,"c":1.1965,"m":0.004,"s":0.0029,"k":40,"d":65,"t":0},
{"i":289,"o":1.1965,"h":1.1975,"l":1.1915,"c":1.1935,"m":0.0036,"s":0.0031,"k":15,"d":42,"t":0},
{"i":290,"o":1.1935,"h":1.2025,"l":1.1915,"c":1.1945,"m":0.0034,"s":0.0033,"k":18,"d":24,"t":0},
{"i":291,"o":1.1945,"h":1.206,"l":1.193,"c":1.203,"m":0.0036,"s":0.0034,"k":40,"d":24,"t":1},
{"i":292,"o":1.203,"h":1.2215,"l":1.2025,"c":1.22,"m":0.0048,"s":0.0036,"k":80,"d":46,"t":1},
{"i":293,"o":1.22,"h":1.2295,"l":1.2195,"c":1.2265,"m":0.0059,"s":0.0039,"k":92,"d":71,"t":1},
{"i":294,"o":1.2265,"h":1.2325,"l":1.222,"c":1.226,"m":0.0066,"s":0.0043,"k":90,"d":87,"t":1},
{"i":295,"o":1.226,"h":1.2275,"l":1.2165,"c":1.2175,"m":0.0067,"s":0.0047,"k":68,"d":83,"t":1},
{"i":296,"o":1.2175,"h":1.2265,"l":1.2165,"c":1.2235,"m":0.007,"s":0.0051,"k":65,"d":74,"t":1},
{"i":297,"o":1.2235,"h":1.2295,"l":1.2215,"c":1.222,"m":0.0071,"s":0.0055,"k":60,"d":64,"t":1},
{"i":298,"o":1.222,"h":1.2275,"l":1.2215,"c":1.226,"m":0.0073,"s":0.0059,"k":68,"d":64,"t":1},
{"i":299,"o":1.226,"h":1.231,"l":1.2225,"c":1.23,"m":0.0076,"s":0.0062,"k":75,"d":68,"t":1},
{"i":300,"o":1.23,"h":1.2415,"l":1.229,"c":1.2405,"m":0.0085,"s":0.0065,"k":85,"d":76,"t":1},
{"i":301,"o":1.2405,"h":1.2537,"l":1.2365,"c":1.2395,"m":0.0093,"s":0.0069,"k":88,"d":83,"t":1},
{"i":302,"o":1.2395,"h":1.2495,"l":1.237,"c":1.2425,"m":0.01,"s":0.0074,"k":85,"d":86,"t":1},
{"i":303,"o":1.2425,"h":1.2435,"l":1.2335,"c":1.2385,"m":0.0103,"s":0.0079,"k":70,"d":81,"t":1},
{"i":304,"o":1.2385,"h":1.246,"l":1.234,"c":1.241,"m":0.0106,"s":0.0084,"k":72,"d":76,"t":1},
{"i":305,"o":1.241,"h":1.248,"l":1.24,"c":1.2415,"m":0.0108,"s":0.0089,"k":75,"d":72,"t":1},
{"i":306,"o":1.2415,"h":1.2525,"l":1.241,"c":1.251,"m":0.0112,"s":0.0094,"k":88,"d":78,"t":1},
{"i":307,"o":1.251,"h":1.252,"l":1.2435,"c":1.246,"m":0.0113,"s":0.0099,"k":80,"d":81,"t":1},
{"i":308,"o":1.246,"h":1.2475,"l":1.2365,"c":1.237,"m":0.0104,"s":0.0102,"k":55,"d":74,"t":0},
{"i":309,"o":1.237,"h":1.2405,"l":1.234,"c":1.2375,"m":0.0096,"s":0.0104,"k":40,"d":58,"t":0},
{"i":310,"o":1.2375,"h":1.2385,"l":1.2255,"c":1.2265,"m":0.0086,"s":0.0104,"k":20,"d":38,"t":0},
{"i":311,"o":1.2265,"h":1.2295,"l":1.2205,"c":1.225,"m":0.0076,"s":0.0102,"k":12,"d":24,"t":0},
{"i":312,"o":1.225,"h":1.228,"l":1.221,"c":1.225,"m":0.0068,"s":0.0098,"k":15,"d":16,"t":0},
{"i":313,"o":1.225,"h":1.23,"l":1.224,"c":1.229,"m":0.0062,"s":0.0093,"k":25,"d":17,"t":0},
{"i":314,"o":1.229,"h":1.237,"l":1.2275,"c":1.235,"m":0.0058,"s":0.0087,"k":50,"d":30,"t":0},
{"i":315,"o":1.235,"h":1.247,"l":1.2275,"c":1.245,"m":0.0058,"s":0.0081,"k":78,"d":51,"t":0},
{"i":316,"o":1.245,"h":1.251,"l":1.2445,"c":1.2505,"m":0.006,"s":0.0075,"k":92,"d":73,"t":1},
{"i":317,"o":1.2505,"h":1.2555,"l":1.2395,"c":1.2405,"m":0.0058,"s":0.007,"k":80,"d":83,"t":0},
{"i":318,"o":1.2405,"h":1.2425,"l":1.2385,"c":1.2405,"m":0.0055,"s":0.0065,"k":70,"d":81,"t":0},
{"i":319,"o":1.2405,"h":1.2415,"l":1.232,"c":1.2335,"m":0.005,"s":0.0061,"k":50,"d":67,"t":0},
{"i":320,"o":1.2335,"h":1.2355,"l":1.226,"c":1.2285,"m":0.0044,"s":0.0057,"k":30,"d":50,"t":0},
{"i":321,"o":1.2285,"h":1.235,"l":1.227,"c":1.233,"m":0.004,"s":0.0054,"k":35,"d":38,"t":0},
{"i":322,"o":1.233,"h":1.2355,"l":1.229,"c":1.2295,"m":0.0036,"s":0.005,"k":30,"d":32,"t":0},
{"i":323,"o":1.2295,"h":1.2355,"l":1.2285,"c":1.232,"m":0.0033,"s":0.0047,"k":35,"d":33,"t":0},
{"i":324,"o":1.232,"h":1.2345,"l":1.223,"c":1.2235,"m":0.0028,"s":0.0043,"k":18,"d":28,"t":0},
{"i":325,"o":1.2235,"h":1.2245,"l":1.2155,"c":1.2195,"m":0.0022,"s":0.0039,"k":10,"d":21,"t":0},
{"i":326,"o":1.2195,"h":1.2275,"l":1.2175,"c":1.2265,"m":0.0021,"s":0.0035,"k":30,"d":19,"t":0},
{"i":327,"o":1.2265,"h":1.2335,"l":1.226,"c":1.2315,"m":0.0022,"s":0.0032,"k":55,"d":32,"t":1},
{"i":328,"o":1.2315,"h":1.2365,"l":1.2275,"c":1.2335,"m":0.0023,"s":0.0029,"k":65,"d":50,"t":1},
{"i":329,"o":1.2335,"h":1.2415,"l":1.233,"c":1.2405,"m":0.0027,"s":0.0027,"k":85,"d":68,"t":1},
{"i":330,"o":1.2405,"h":1.2445,"l":1.2395,"c":1.241,"m":0.003,"s":0.0026,"k":88,"d":79,"t":1},
{"i":331,"o":1.241,"h":1.2445,"l":1.2295,"c":1.231,"m":0.0028,"s":0.0025,"k":60,"d":78,"t":0},
{"i":332,"o":1.231,"h":1.2335,"l":1.2275,"c":1.2305,"m":0.0026,"s":0.0025,"k":45,"d":64,"t":0},
{"i":333,"o":1.2305,"h":1.2345,"l":1.229,"c":1.2335,"m":0.0026,"s":0.0025,"k":50,"d":52,"t":0},
{"i":334,"o":1.2335,"h":1.241,"l":1.2325,"c":1.239,"m":0.0028,"s":0.0026,"k":68,"d":54,"t":1},
{"i":335,"o":1.239,"h":1.2415,"l":1.236,"c":1.237,"m":0.0028,"s":0.0026,"k":70,"d":63,"t":0},
{"i":336,"o":1.237,"h":1.238,"l":1.23,"c":1.2305,"m":0.0025,"s":0.0026,"k":45,"d":61,"t":0},
{"i":337,"o":1.2305,"h":1.2335,"l":1.226,"c":1.229,"m":0.0022,"s":0.0026,"k":30,"d":48,"t":0},
{"i":338,"o":1.229,"h":1.235,"l":1.2285,"c":1.2335,"m":0.0022,"s":0.0025,"k":45,"d":40,"t":0},
{"i":339,"o":1.2335,"h":1.2355,"l":1.224,"c":1.224,"m":0.0018,"s":0.0024,"k":25,"d":33,"t":0},
{"i":340,"o":1.224,"h":1.239,"l":1.2235,"c":1.234,"m":0.0019,"s":0.0023,"k":45,"d":38,"t":1},
{"i":341,"o":1.234,"h":1.236,"l":1.224,"c":1.23,"m":0.0018,"s":0.0022,"k":48,"d":39,"t":0},
{"i":342,"o":1.23,"h":1.237,"l":1.229,"c":1.2355,"m":0.0019,"s":0.0021,"k":62,"d":52,"t":1},
{"i":343,"o":1.2355,"h":1.245,"l":1.235,"c":1.2445,"m":0.0024,"s":0.0021,"k":85,"d":65,"t":1},
{"i":344,"o":1.2445,"h":1.2476,"l":1.2395,"c":1.2405,"m":0.0026,"s":0.0021,"k":85,"d":77,"t":1},
{"i":345,"o":1.2405,"h":1.241,"l":1.23,"c":1.2305,"m":0.0023,"s":0.0021,"k":55,"d":75,"t":0},
{"i":346,"o":1.2305,"h":1.234,"l":1.229,"c":1.232,"m":0.0021,"s":0.0021,"k":45,"d":62,"t":0},
{"i":347,"o":1.232,"h":1.2335,"l":1.231,"c":1.232,"m":0.0019,"s":0.0021,"k":40,"d":47,"t":0},
{"i":348,"o":1.232,"h":1.233,"l":1.2285,"c":1.23,"m":0.0017,"s":0.0021,"k":32,"d":39,"t":0},
{"i":349,"o":1.23,"h":1.2315,"l":1.2255,"c":1.227,"m":0.0014,"s":0.002,"k":22,"d":31,"t":0},
{"i":350,"o":1.227,"h":1.2295,"l":1.2255,"c":1.228,"m":0.0012,"s":0.0019,"k":30,"d":28,"t":0},
{"i":351,"o":1.228,"h":1.229,"l":1.2215,"c":1.224,"m":0.0009,"s":0.0018,"k":22,"d":25,"t":0},
{"i":352,"o":1.224,"h":1.229,"l":1.2215,"c":1.228,"m":0.0008,"s":0.0016,"k":35,"d":29,"t":0},
{"i":353,"o":1.228,"h":1.2335,"l":1.2275,"c":1.232,"m":0.0009,"s":0.0015,"k":60,"d":39,"t":1},
{"i":354,"o":1.232,"h":1.2375,"l":1.231,"c":1.2355,"m":0.0011,"s":0.0014,"k":80,"d":58,"t":1},
{"i":355,"o":1.2355,"h":1.2395,"l":1.2335,"c":1.237,"m":0.0013,"s":0.0013,"k":88,"d":76,"t":1},
{"i":356,"o":1.237,"h":1.2395,"l":1.231,"c":1.2325,"m":0.0013,"s":0.0012,"k":70,"d":79,"t":0},
{"i":357,"o":1.2325,"h":1.2345,"l":1.2305,"c":1.233,"m":0.0013,"s":0.0012,"k":65,"d":74,"t":0},
{"i":358,"o":1.233,"h":1.2395,"l":1.2325,"c":1.238,"m":0.0014,"s":0.0012,"k":80,"d":72,"t":1},
{"i":359,"o":1.238,"h":1.2415,"l":1.236,"c":1.2375,"m":0.0015,"s":0.0012,"k":82,"d":76,"t":1},
{"i":360,"o":1.2375,"h":1.2395,"l":1.234,"c":1.2375,"m":0.0015,"s":0.0013,"k":78,"d":80,"t":0},
{"i":361,"o":1.2375,"h":1.241,"l":1.234,"c":1.2345,"m":0.0013,"s":0.0013,"k":60,"d":73,"t":0},
{"i":362,"o":1.2345,"h":1.2355,"l":1.228,"c":1.229,"m":0.001,"s":0.0013,"k":30,"d":56,"t":0},
{"i":363,"o":1.229,"h":1.2295,"l":1.2195,"c":1.221,"m":0.0008,"s":0.0012,"k":12,"d":34,"t":0},
{"i":364,"o":1.221,"h":1.2255,"l":1.2185,"c":1.2235,"m":0.0006,"s":0.0011,"k":15,"d":19,"t":0},
{"i":365,"o":1.2235,"h":1.224,"l":1.216,"c":1.2165,"m":0.0003,"s":0.001,"k":10,"d":12,"t":0},
{"i":366,"o":1.2165,"h":1.2195,"l":1.2095,"c":1.21,"m":-0.0001,"s":0.0008,"k":5,"d":10,"t":0},
{"i":367,"o":1.21,"h":1.2135,"l":1.2055,"c":1.213,"m":-0.0005,"s":0.0006,"k":12,"d":9,"t":1},
{"i":368,"o":1.213,"h":1.2135,"l":1.2075,"c":1.208,"m":-0.001,"s":0.0003,"k":10,"d":9,"t":1},
{"i":369,"o":1.208,"h":1.2085,"l":1.1985,"c":1.199,"m":-0.0017,"s":-0.0001,"k":5,"d":9,"t":1},
{"i":370,"o":1.199,"h":1.201,"l":1.194,"c":1.195,"m":-0.0024,"s":-0.0005,"k":3,"d":6,"t":1},
{"i":371,"o":1.195,"h":1.2,"l":1.194,"c":1.199,"m":-0.0029,"s":-0.0009,"k":10,"d":6,"t":1},
{"i":372,"o":1.199,"h":1.1995,"l":1.191,"c":1.196,"m":-0.0034,"s":-0.0014,"k":12,"d":8,"t":1},
{"i":373,"o":1.196,"h":1.197,"l":1.19,"c":1.1925,"m":-0.0039,"s":-0.0019,"k":10,"d":11,"t":1},
{"i":374,"o":1.1925,"h":1.1935,"l":1.184,"c":1.1865,"m":-0.0044,"s":-0.0024,"k":5,"d":9,"t":1},
{"i":375,"o":1.1865,"h":1.188,"l":1.182,"c":1.185,"m":-0.0048,"s":-0.0029,"k":8,"d":8,"t":1},
{"i":376,"o":1.185,"h":1.193,"l":1.1835,"c":1.1915,"m":-0.005,"s":-0.0034,"k":30,"d":14,"t":1},
{"i":377,"o":1.1915,"h":1.196,"l":1.1895,"c":1.194,"m":-0.005,"s":-0.0038,"k":55,"d":31,"t":0},
{"i":378,"o":1.194,"h":1.1997,"l":1.1915,"c":1.1925,"m":-0.0051,"s":-0.0042,"k":62,"d":49,"t":1},
{"i":379,"o":1.1925,"h":1.1935,"l":1.182,"c":1.184,"m":-0.0056,"s":-0.0046,"k":30,"d":49,"t":1},
{"i":380,"o":1.184,"h":1.185,"l":1.1765,"c":1.181,"m":-0.0061,"s":-0.005,"k":15,"d":36,"t":1},
{"i":381,"o":1.181,"h":1.1845,"l":1.179,"c":1.1795,"m":-0.0066,"s":-0.0053,"k":12,"d":19,"t":1},
{"i":382,"o":1.1795,"h":1.1815,"l":1.175,"c":1.177,"m":-0.0071,"s":-0.0057,"k":10,"d":12,"t":1},
{"i":383,"o":1.177,"h":1.181,"l":1.1715,"c":1.179,"m":-0.0074,"s":-0.0061,"k":18,"d":13,"t":1},
{"i":384,"o":1.179,"h":1.183,"l":1.176,"c":1.178,"m":-0.0077,"s":-0.0065,"k":22,"d":17,"t":1},
{"i":385,"o":1.178,"h":1.1785,"l":1.1675,"c":1.1695,"m":-0.0085,"s":-0.0069,"k":10,"d":17,"t":1},
{"i":386,"o":1.1695,"h":1.175,"l":1.169,"c":1.172,"m":-0.009,"s":-0.0073,"k":15,"d":16,"t":1},
{"i":387,"o":1.172,"h":1.1735,"l":1.1645,"c":1.1655,"m":-0.0096,"s":-0.0078,"k":8,"d":11,"t":1},
{"i":388,"o":1.1655,"h":1.168,"l":1.161,"c":1.162,"m":-0.0103,"s":-0.0083,"k":5,"d":9,"t":1},
{"i":389,"o":1.162,"h":1.164,"l":1.151,"c":1.154,"m":-0.0112,"s":-0.0088,"k":3,"d":5,"t":1},
{"i":390,"o":1.154,"h":1.1675,"l":1.1535,"c":1.1665,"m":-0.0116,"s":-0.0093,"k":35,"d":14,"t":1},
{"i":391,"o":1.1665,"h":1.1725,"l":1.1645,"c":1.1695,"m":-0.0118,"s":-0.0098,"k":55,"d":31,"t":1},
{"i":392,"o":1.1695,"h":1.1705,"l":1.164,"c":1.166,"m":-0.0117,"s":-0.0103,"k":50,"d":47,"t":0},
{"i":393,"o":1.166,"h":1.172,"l":1.165,"c":1.1695,"m":-0.0113,"s":-0.0106,"k":60,"d":55,"t":0},
{"i":394,"o":1.1695,"h":1.1725,"l":1.1645,"c":1.1725,"m":-0.0107,"s":-0.0108,"k":75,"d":62,"t":0},
{"i":395,"o":1.1725,"h":1.1795,"l":1.1705,"c":1.1775,"m":-0.0099,"s":-0.0108,"k":88,"d":74,"t":0},
{"i":396,"o":1.1775,"h":1.184,"l":1.1765,"c":1.18,"m":-0.009,"s":-0.0106,"k":92,"d":85,"t":0},
{"i":397,"o":1.18,"h":1.181,"l":1.173,"c":1.177,"m":-0.0084,"s":-0.0103,"k":82,"d":87,"t":0},
{"i":398,"o":1.177,"h":1.18,"l":1.1755,"c":1.1785,"m":-0.0078,"s":-0.0099,"k":80,"d":85,"t":0},
{"i":399,"o":1.1785,"h":1.1795,"l":1.1765,"c":1.178,"m":-0.0072,"s":-0.0095,"k":78,"d":80,"t":0},
{"i":400,"o":1.178,"h":1.181,"l":1.1725,"c":1.1795,"m":-0.0066,"s":-0.009,"k":80,"d":79,"t":0},
{"i":401,"o":1.1795,"h":1.1852,"l":1.1565,"c":1.157,"m":-0.0068,"s":-0.0084,"k":35,"d":64,"t":1},
{"i":402,"o":1.157,"h":1.1625,"l":1.1545,"c":1.161,"m":-0.0066,"s":-0.0079,"k":25,"d":47,"t":0},
{"i":403,"o":1.161,"h":1.1625,"l":1.1575,"c":1.1625,"m":-0.0062,"s":-0.0075,"k":30,"d":30,"t":0},
{"i":404,"o":1.1625,"h":1.1635,"l":1.156,"c":1.158,"m":-0.0058,"s":-0.0071,"k":20,"d":25,"t":0},
{"i":405,"o":1.158,"h":1.1605,"l":1.1535,"c":1.157,"m":-0.0055,"s":-0.0066,"k":15,"d":22,"t":0},
{"i":406,"o":1.157,"h":1.1615,"l":1.1508,"c":1.1605,"m":-0.0052,"s":-0.0062,"k":28,"d":21,"t":0},
{"i":407,"o":1.1605,"h":1.1675,"l":1.1595,"c":1.1655,"m":-0.0047,"s":-0.0059,"k":45,"d":29,"t":0},
{"i":408,"o":1.16606,"h":1.17081,"l":1.16283,"c":1.16833,"m":-0.0043,"s":-0.0056,"k":83,"d":52,"t":0}
]},
"vconcat":[
{"width":778,"height":248,
"layer":[
{"data":{"name":"lv"},"mark":{"type":"rule","strokeWidth":1},"encoding":{"y":{"field":"p","type":"quantitative","scale":{"domain":[1.02721,1.27124],"nice":false,"zero":false},"axis":{"title":null,"orient":"right","values":[1.029,1.0441,1.0592,1.0743,1.0894,1.1045,1.1196,1.1347,1.18,1.1951,1.2102,1.2253,1.2404]}},"color":{"condition":{"test":"datum.n=='bid'","value":"#c4c4c4"},"value":"#f2a4ac"}}},
{"data":{"name":"ch"},"mark":{"type":"rule","color":"#e00000","strokeWidth":1},"encoding":{"x":{"field":"i","type":"quantitative","scale":{"domain":[-0.5,408.5],"nice":false,"zero":false},"axis":null}}},
{"data":{"name":"b"},"mark":{"type":"rule","color":"#000","strokeWidth":1},"encoding":{"x":{"field":"i","type":"quantitative","axis":null},"y":{"field":"l","type":"quantitative","title":null},"y2":{"field":"h"}}},
{"data":{"name":"b"},"mark":{"type":"bar","size":1.7},"encoding":{"x":{"field":"i","type":"quantitative","axis":null},"y":{"field":"o","type":"quantitative","title":null},"y2":{"field":"c"},"color":{"condition":{"test":"datum.c>=datum.o","value":"#7a7a7a"},"value":"#000"}}},
{"data":{"name":"tl"},"transform":[{"filter":"datum.g=='pu'||datum.g=='pl'"}],"mark":{"type":"line","color":"#a345c9","strokeWidth":2},"encoding":{"x":{"field":"i","type":"quantitative","axis":null},"y":{"field":"p","type":"quantitative","title":null},"detail":{"field":"g"}}},
{"data":{"name":"tl"},"transform":[{"filter":"datum.g=='gu'||datum.g=='gl'"}],"mark":{"type":"line","color":"#a6d41e","strokeWidth":1.6,"strokeDash":[6,4]},"encoding":{"x":{"field":"i","type":"quantitative","axis":null},"y":{"field":"p","type":"quantitative","title":null},"detail":{"field":"g"}}},
{"data":{"values":[{"s":"▼ EURUSD,Daily  1.16606 1.17081 1.16283 1.16833"}]},"mark":{"type":"text","align":"left","baseline":"middle","fontSize":5,"color":"#111"},"encoding":{"x":{"datum":1,"axis":null},"y":{"datum":1.2668},"text":{"field":"s"}}},
{"data":{"name":"yl"},"mark":{"type":"text","align":"left","baseline":"middle","fontSize":5.5,"color":"#000"},"encoding":{"x":{"datum":410.1,"axis":null},"y":{"field":"p","type":"quantitative","title":null},"text":{"field":"p","format":".4f"}}},
{"data":{"name":"lv"},"transform":[{"filter":"datum.n!='bid'"}],"mark":{"type":"rect","width":21,"height":8,"color":"#ee0000"},"encoding":{"x":{"datum":414.6,"axis":null},"y":{"field":"p","type":"quantitative","title":null}}},
{"data":{"name":"lv"},"transform":[{"filter":"datum.n=='bid'"}],"mark":{"type":"rect","width":21,"height":8,"color":"#000"},"encoding":{"x":{"datum":414.6,"axis":null},"y":{"field":"p","type":"quantitative","title":null}}},
{"data":{"name":"lv"},"mark":{"type":"text","align":"center","baseline":"middle","fontSize":5.5,"color":"#fff"},"encoding":{"x":{"datum":414.6,"axis":null},"y":{"field":"p","type":"quantitative","title":null},"text":{"field":"p","format":".4f"}}},
{"data":{"values":[{"p":1.27124},{"p":1.02721}]},"mark":{"type":"rule","strokeWidth":2},"encoding":{"y":{"field":"p","type":"quantitative","title":null},"color":{"condition":{"test":"datum.p>1.2","value":"#222"},"value":"#a0a0a0"}}}
]},
{"width":778,"height":60,
"layer":[
{"data":{"name":"b"},"mark":{"type":"bar","size":1.1},"encoding":{"x":{"field":"i","type":"quantitative","scale":{"domain":[-0.5,408.5],"nice":false,"zero":false},"axis":null},"y":{"field":"m","type":"quantitative","scale":{"domain":[-0.0125,0.013],"nice":false,"zero":false},"axis":{"title":null,"orient":"right","values":[0.0118,0,-0.0118]}},"y2":{"datum":0},"color":{"condition":{"test":"datum.t==1","value":"#a22fe0"},"value":"#e2b0f3"}}},
{"data":{"name":"b"},"mark":{"type":"line","color":"#62dc12","strokeWidth":1.3,"strokeDash":[1.5,1.5]},"encoding":{"x":{"field":"i","type":"quantitative","axis":null},"y":{"field":"s","type":"quantitative","title":null}}},
{"data":{"name":"ch"},"mark":{"type":"rule","color":"#e00000","strokeWidth":1},"encoding":{"x":{"field":"i","type":"quantitative","axis":null}}},
{"data":{"values":[{"s":"MACD(12,26,9) -0.00430 -0.00560"}]},"mark":{"type":"text","align":"left","baseline":"middle","fontSize":5,"color":"#222"},"encoding":{"x":{"datum":1,"axis":null},"y":{"datum":0.0112},"text":{"field":"s"}}},
{"data":{"name":"ml"},"mark":{"type":"text","align":"left","baseline":"middle","fontSize":5,"color":"#000"},"encoding":{"x":{"datum":410.1,"axis":null},"y":{"field":"v","type":"quantitative","title":null},"text":{"field":"s"}}},
{"data":{"values":[{"v":-0.0125}]},"mark":{"type":"rule","strokeWidth":2,"color":"#a0a0a0"},"encoding":{"y":{"field":"v","type":"quantitative","title":null}}}
]},
{"width":778,"height":37,
"layer":[
{"data":{"values":[{"v":80},{"v":20}]},"mark":{"type":"rule","color":"#a8a8a8","strokeWidth":1,"strokeDash":[1,2]},"encoding":{"y":{"field":"v","type":"quantitative","scale":{"domain":[0,100],"nice":false,"zero":false},"axis":{"title":null,"orient":"right","values":[100,80,20,0]}}}},
{"data":{"name":"b"},"mark":{"type":"line","color":"#b466e2","strokeWidth":1.2},"encoding":{"x":{"field":"i","type":"quantitative","scale":{"domain":[-0.5,408.5],"nice":false,"zero":false},"axis":{"title":null,"values":[0,16,32,48,64,80,112,128,144,160,176,192,208,224,240,256,272,288,304,320,336,352,368,384,400]}},"y":{"field":"k","type":"quantitative","title":null}}},
{"data":{"name":"b"},"mark":{"type":"line","color":"#5fdc10","strokeWidth":1.2,"strokeDash":[1.5,1.5]},"encoding":{"x":{"field":"i","type":"quantitative","title":null},"y":{"field":"d","type":"quantitative","title":null}}},
{"data":{"name":"ch"},"mark":{"type":"rule","color":"#e00000","strokeWidth":1},"encoding":{"x":{"field":"i","type":"quantitative","title":null}}},
{"data":{"values":[{"s":"Stoch(5,3,3) 82.6861 51.6860"}]},"mark":{"type":"text","align":"left","baseline":"middle","fontSize":5,"color":"#222"},"encoding":{"x":{"datum":1},"y":{"datum":91},"text":{"field":"s"}}},
{"data":{"name":"sl"},"mark":{"type":"text","align":"left","baseline":"middle","fontSize":5,"color":"#000"},"encoding":{"x":{"datum":410.1},"y":{"field":"v","type":"quantitative","title":null},"text":{"field":"v"}}},
{"data":{"name":"dl"},"mark":{"type":"text","align":"left","baseline":"middle","fontSize":5,"color":"#000","dx":1},"encoding":{"x":{"field":"i","type":"quantitative","title":null},"y":{"datum":-14},"text":{"field":"s"}}},
{"data":{"name":"ch"},"mark":{"type":"rect","width":37,"height":8,"color":"#ee0000"},"encoding":{"x":{"field":"i","type":"quantitative","title":null},"y":{"datum":-14}}},
{"data":{"name":"ch"},"mark":{"type":"text","align":"center","baseline":"middle","fontSize":5,"color":"#fff"},"encoding":{"x":{"field":"i","type":"quantitative","title":null},"y":{"datum":-14},"text":{"field":"lab"}}}
]}
]
}
